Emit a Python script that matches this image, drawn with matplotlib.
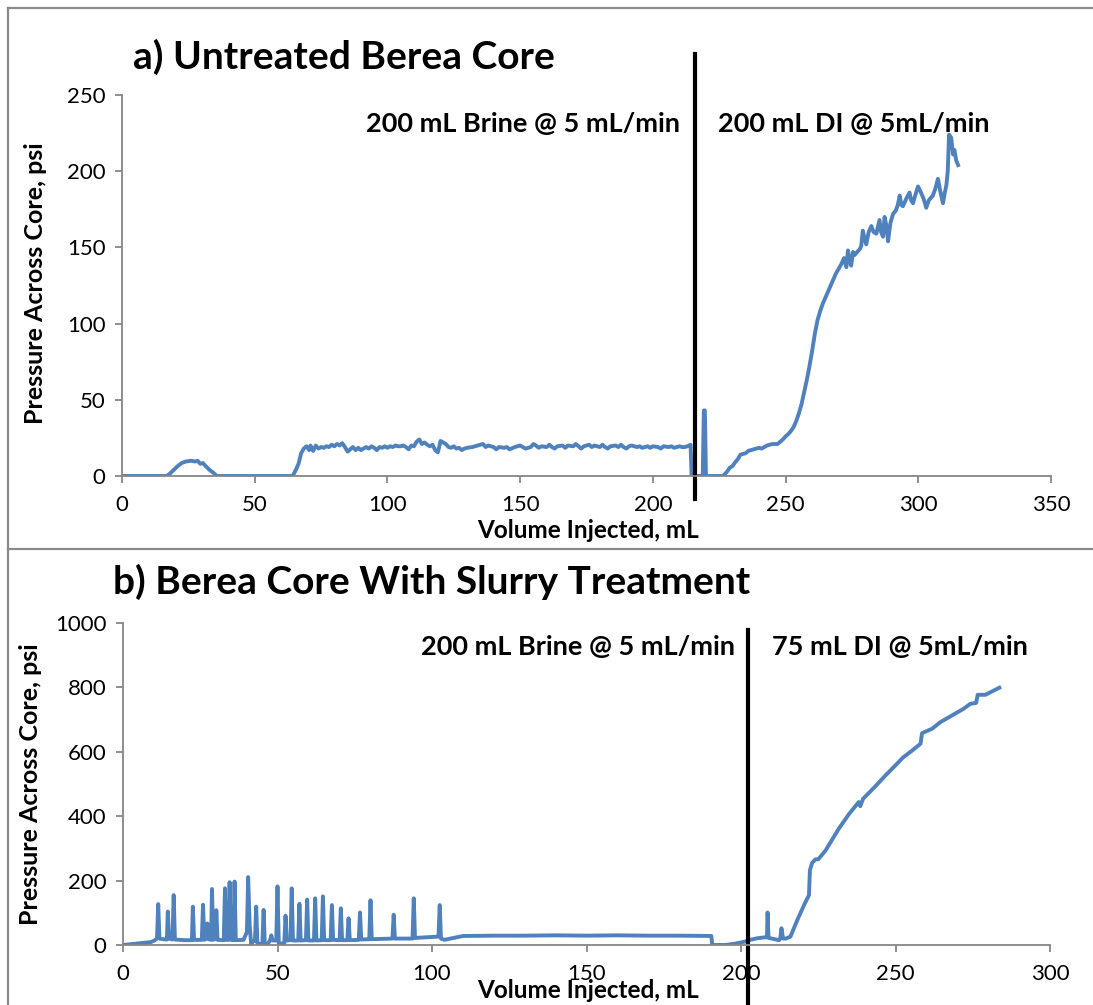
import matplotlib
matplotlib.use("Agg")
import matplotlib.pyplot as plt
from matplotlib.lines import Line2D

plt.rcParams['font.family'] = ['Lato', 'DejaVu Sans']

# ---------------- data ----------------
title_a = "a) Untreated Berea Core"
title_b = "b) Berea Core With Slurry Treatment"
xlabel = "Volume Injected, mL"
ylabel = "Pressure Across Core, psi"
note_brine_a = "200 mL Brine @ 5 mL/min"
note_di_a = "200 mL DI @ 5mL/min"
note_brine_b = "200 mL Brine @ 5 mL/min"
note_di_b = "75 mL DI @ 5mL/min"

switch_a = 216.0   # mL where injection switches (panel a)
switch_b = 202.4   # panel b

xticks_a = [0, 50, 100, 150, 200, 250, 300, 350]
yticks_a = [0, 50, 100, 150, 200, 250]
xticks_b = [0, 50, 100, 150, 200, 250, 300]
yticks_b = [0, 200, 400, 600, 800, 1000]

vol_a = [0, 16.9, 18, 19.5, 21, 22.5, 24, 26, 27.5, 28.5, 29.5, 30.5, 31.5, 33, 34.5, 35.7,
         64.3, 65.5, 66.5, 67.5, 68.5, 69.5, 70.5, 71, 72, 73, 74, 75, 76, 77, 78, 79, 80,
         81, 82, 83, 84, 85, 86, 87, 88, 89, 90, 91, 92, 93, 94, 95, 96, 97, 98, 99, 100,
         101, 102, 103, 104, 105, 106, 107, 108, 109, 110, 111, 112, 113, 114, 115, 116,
         117, 118, 119, 119.5, 120, 121, 122, 123, 124, 125, 126, 127, 128, 129, 130, 132,
         134, 136, 137, 138, 140, 141, 142, 144, 145, 146, 148, 150, 151, 152, 154, 155,
         156, 157, 158, 160, 161, 162, 163, 164, 166, 167, 168, 170, 171, 172, 173, 174,
         176, 177, 178, 180, 181, 182, 183, 184, 186, 187, 188, 189, 190, 191, 192, 194,
         195, 196, 198, 199, 200, 202, 203, 204, 206, 207, 208, 209, 210, 211, 212, 213,
         214.2, 214.6, 218.8, 219.2, 219.6, 220, 226.5, 228, 229, 230, 231, 232, 233, 234,
         235, 236, 237, 238, 239, 240, 241, 242, 243, 244, 245, 246, 247, 248, 249, 250,
         251, 252, 253, 254, 255, 256, 257, 258, 259, 260, 261, 262, 263, 264, 265, 266,
         267, 268, 269, 270, 271, 272, 272.9, 273.5, 274.2, 274.7, 275.4, 276, 277, 278,
         278.5, 279.1, 279.7, 280.4, 281.3, 282.3, 283.2, 284.2, 285.4, 286, 286.7, 287.3,
         288, 288.6, 289.5, 290.5, 291.5, 292.3, 293, 293.6, 294.2, 295.5, 296.7, 297.3,
         298, 299, 299.9, 301, 302, 303, 304, 305.5, 306.5, 307.4, 308.4, 309.3, 310,
         310.6, 311.1, 311.6, 312.4, 313.1, 313.6, 314.3, 315]
pres_a = [0, 0, 1.5, 4, 6.5, 8.5, 9.5, 10, 9.5, 10, 8, 8.5, 6.5, 4, 2, 0,
          0, 4, 8, 15, 18, 19.5, 17, 20, 16.5, 20, 18, 19, 18.5, 19.5, 19, 20.5, 19.5,
          21, 20, 21.5, 19, 16, 17.5, 19, 17, 18.5, 17, 18, 19, 18, 19.5, 18.5, 17, 19, 18.5, 19.5, 18.5,
          19.5, 19, 20, 19.5, 19.5, 20, 19, 17.5, 20, 19.5, 22.5, 24, 21, 22, 20.5, 19.5,
          20.5, 17, 15.5, 19, 23, 22, 21, 19, 18.5, 19.5, 18, 18.5, 17, 18, 18.5, 19,
          20, 21, 19, 20, 19, 17.5, 19, 18.5, 19, 17.5, 19, 20, 19, 18, 19, 21,
          20, 18.5, 19.5, 19, 20.5, 19, 18, 19.5, 20, 18.5, 20, 19.5, 21, 19.5, 18, 19.5,
          20.5, 19, 20, 19, 20.5, 19, 18, 19.5, 20, 19, 20.5, 19, 18, 19.5, 20, 19,
          19.5, 18.5, 19.5, 18.5, 19.5, 19, 18, 19.5, 19, 19.5, 18.5, 19, 19.5, 19, 19, 19.5,
          20.5, 0, 0, 43, 43, 0, 0, 3, 5.5, 6.5, 9, 11, 14, 14.5,
          15, 16.5, 17, 17.5, 18, 18.5, 18, 19, 20, 20.5, 21, 21, 21, 22.5, 24, 26,
          27.5, 29.5, 32, 36, 41, 47, 55, 63, 72, 82, 93, 102, 108, 113, 117, 121,
          125, 129, 133, 136, 139, 143, 137, 148, 141, 138, 147, 145, 147, 149,
          151, 161, 156, 152, 160, 164, 160, 159, 168, 160, 157, 170,
          164, 154, 166, 172, 174, 178, 184, 178, 177, 182, 186, 181,
          179, 185, 190, 186, 182, 176, 181, 184, 189, 195, 186, 179, 186,
          191, 200, 224, 222, 211, 214, 207, 204]

vol_b = [0, 3, 6, 9, 10.2, 11, 11.4, 11.8, 13, 14.2, 14.5, 14.9, 16, 16.4, 16.8, 20,
         22.3, 22.6, 23, 25.5, 25.9, 26.3, 27, 27.3, 27.7, 28.5, 28.8, 29.2, 29.9, 30.2,
         30.6, 32.6, 33, 33.4, 34.1, 34.5, 34.9, 35.7, 36.1, 36.5, 39, 40.1, 40.5, 41,
         41.5, 42, 42.7, 43.1, 43.5, 45.1, 45.5, 45.9, 47, 47.6, 48, 48.4, 49.6, 50, 50.4,
         52.2, 52.6, 53, 54.2, 54.6, 55, 56.7, 57.1, 57.5, 59.2, 59.6, 60, 61.8, 62.2,
         62.6, 64.3, 64.7, 65.1, 67.2, 67.6, 68, 70.1, 70.5, 70.9, 72.6, 73, 73.4, 76.3,
         76.7, 77.1, 79.7, 80.1, 80.5, 87.2, 87.6, 88, 93.7, 94.1, 94.5, 102.1, 102.5,
         102.9, 104, 106, 110, 120, 130, 140, 150, 160, 170, 180, 190.4, 190.7, 195, 198,
         201, 203, 205.3, 208, 208.4, 208.6, 208.9, 210, 212.3, 212.7, 213.1, 213.6,
         214.5, 216, 218.2, 220.4, 222, 222.3, 223, 224.1, 225, 227.4, 231.7, 234.9,
         238.1, 238.6, 239.5, 243.5, 246.8, 250, 252.4, 255.4, 258.1, 258.6, 261.9,
         264.5, 268.3, 272.1, 274.2, 276.1, 276.6, 279.1, 283.6]
pres_b = [0, 3, 6, 9, 14, 20, 127, 20, 18, 17, 104, 20, 17, 155, 17, 15,
          15, 119, 16, 16, 125, 16, 20, 67, 18, 16, 174, 16, 20, 108,
          16, 15, 176, 16, 16, 195, 16, 15, 197, 15, 16, 40, 211, 60,
          0, 12, 13, 119, 5, 2, 109, 0, 5, 15, 30, 14, 14, 182, 5,
          5, 91, 14, 15, 176, 14, 14, 128, 14, 15, 141, 14, 14, 145,
          14, 15, 151, 15, 15, 124, 16, 15, 114, 15, 15, 83, 15, 16,
          101, 17, 18, 139, 18, 20, 94, 20, 20, 145, 22, 26, 124,
          20, 16, 20, 28, 29, 29, 30, 29, 30, 29, 29, 28, 0, 0, 4,
          10, 16, 21, 24, 24, 101, 22, 20, 15, 20, 52, 20,
          20, 26, 77, 124, 155, 232, 255, 266, 266, 294, 362, 406,
          444, 431, 454, 493, 527, 558, 582, 604, 625, 658, 672,
          692, 713, 734, 749, 752, 777, 777, 799]

# ---------------- figure ----------------
W, H = 1093, 1005
fig = plt.figure(figsize=(W / 100, H / 100), dpi=100)

line_color = '#4F81BD'
spine_color = '#868686'


def fx(px):
    return px / W


def fy(py):
    return 1 - py / H


# panel borders
border_kw = dict(color='#8a8a8a', lw=1.6, transform=fig.transFigure)
fig.add_artist(Line2D([fx(8), fx(8)], [fy(8), fy(1005)], **border_kw))
fig.add_artist(Line2D([fx(8), 1], [fy(8), fy(8)], **border_kw))
fig.add_artist(Line2D([fx(8), 1], [fy(549), fy(549)], **border_kw))


def style_axes(ax, xticks, yticks, xlim, ylim):
    ax.set_xlim(*xlim)
    ax.set_ylim(*ylim)
    ax.set_xticks(xticks)
    ax.set_yticks(yticks)
    for s in ['top', 'right']:
        ax.spines[s].set_visible(False)
    for s in ['left', 'bottom']:
        ax.spines[s].set_color(spine_color)
        ax.spines[s].set_linewidth(1.3)
    ax.tick_params(axis='both', direction='out', length=5, width=1.3,
                   color=spine_color, labelsize=16, labelcolor='black')
    ax.tick_params(axis='x', pad=9)
    ax.tick_params(axis='y', pad=7)
    ax.patch.set_alpha(0)


# panel a
ax1 = fig.add_axes([fx(122), fy(476), fx(1051) - fx(122), fy(95) - fy(476)])
style_axes(ax1, xticks_a, yticks_a, (0, 350), (0, 250))
ax1.plot(vol_a, pres_a, color=line_color, lw=2.8, solid_joinstyle='round')
ax1.plot([switch_a, switch_a], [-15, 277], color='black', lw=3, clip_on=False)

# panel b
ax2 = fig.add_axes([fx(123), fy(945), fx(1050) - fx(123), fy(623) - fy(945)])
style_axes(ax2, xticks_b, yticks_b, (0, 300), (0, 1000))
ax2.plot(vol_b, pres_b, color=line_color, lw=2.8, solid_joinstyle='round')
ax2.plot([switch_b, switch_b], [-200, 978], color='black', lw=3, clip_on=False)

# titles
fig.text(fx(133), fy(57), title_a, fontsize=28, fontweight='bold', ha='left', va='center')
fig.text(fx(113), fy(582), title_b, fontsize=28, fontweight='bold', ha='left', va='center')

# annotations
fig.text(fx(680), fy(124), note_brine_a, fontsize=19.5, fontweight='bold', ha='right', va='center')
fig.text(fx(718), fy(124), note_di_a, fontsize=19.5, fontweight='bold', ha='left', va='center')
fig.text(fx(735), fy(647), note_brine_b, fontsize=19.5, fontweight='bold', ha='right', va='center')
fig.text(fx(772), fy(647), note_di_b, fontsize=19.5, fontweight='bold', ha='left', va='center')

# axis labels
fig.text(fx(588), fy(531), xlabel, fontsize=17.5, fontweight='bold', ha='center', va='center')
fig.text(fx(588), fy(990), xlabel, fontsize=17.5, fontweight='bold', ha='center', va='center')
fig.text(fx(36), fy(283), ylabel, fontsize=18, fontweight='bold', ha='center', va='center', rotation=90)
fig.text(fx(31), fy(784), ylabel, fontsize=18, fontweight='bold', ha='center', va='center', rotation=90)

fig.savefig('out.png', dpi=100)
